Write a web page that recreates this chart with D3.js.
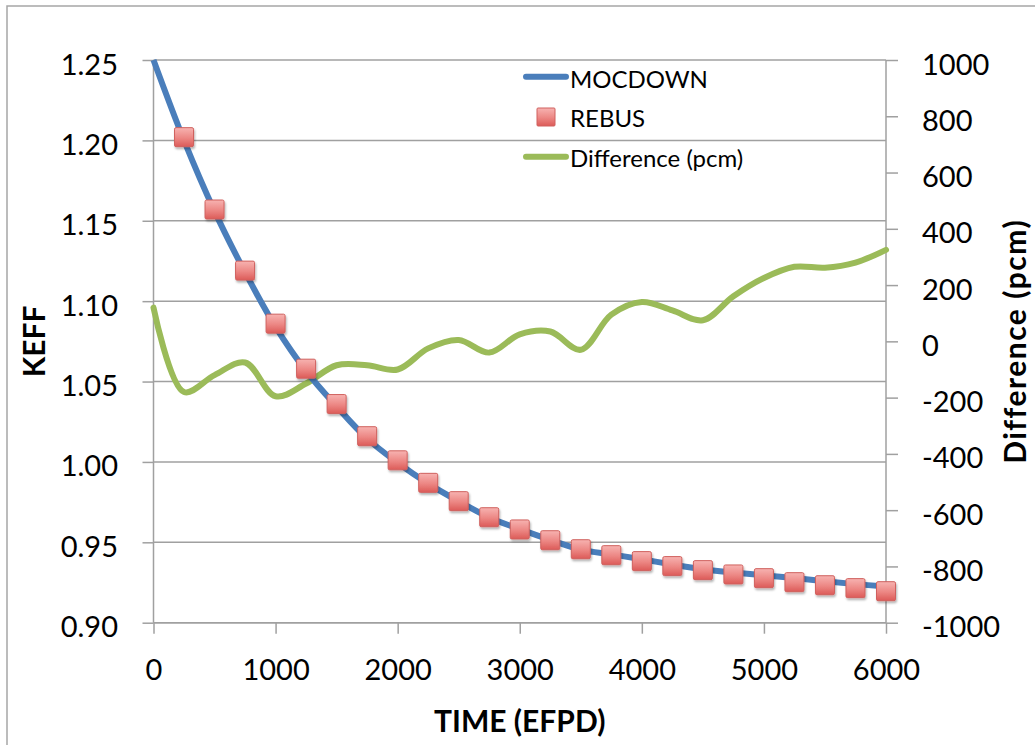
<!DOCTYPE html>
<html>
<head>
<meta charset="utf-8">
<script src="https://cdn.jsdelivr.net/npm/d3@7"></script>
<style>
  html, body { margin: 0; padding: 0; background: #fff; }
  svg { display: block; }
  text { font-family: Lato, "Open Sans", sans-serif; fill: #000; }
</style>
</head>
<body>
<svg id="chart" width="1035" height="745"></svg>
<script>
// ---- data ----
const times = [0,250,500,750,1000,1250,1500,1750,2000,2250,2500,2750,3000,3250,3500,3750,4000,4250,4500,4750,5000,5250,5500,5750,6000];
const mocdown = [1.250,1.200,1.156,1.118,1.084,1.0565,1.0345,1.0145,0.9995,0.9865,0.9755,0.9655,0.9582,0.9515,0.9455,0.9425,0.9395,0.9362,0.9332,0.9312,0.9295,0.9278,0.9258,0.9240,0.9225];
const rebusTimes = [250,500,750,1000,1250,1500,1750,2000,2250,2500,2750,3000,3250,3500,3750,4000,4250,4500,4750,5000,5250,5500,5750,6000];
const rebus = [1.202,1.157,1.119,1.086,1.058,1.036,1.016,1.001,0.987,0.9756,0.9656,0.958,0.9513,0.9457,0.942,0.9383,0.9352,0.9327,0.930,0.9277,0.9252,0.9233,0.9215,0.9196];
const difference = [120,-180,-120,-75,-195,-150,-85,-85,-100,-25,5,-40,25,35,-30,95,140,110,75,160,225,265,262,280,325];
const xTicks = [0,1000,2000,3000,4000,5000,6000];
const leftTicks = [0.90,0.95,1.00,1.05,1.10,1.15,1.20,1.25];
const rightTicks = [-1000,-800,-600,-400,-200,0,200,400,600,800,1000];
const legendItems = ["MOCDOWN","REBUS","Difference (pcm)"];

// ---- layout ----
const svg = d3.select("#chart");
const L = 153.5, R = 886, T = 60, B = 622.7;
const x = d3.scaleLinear().domain([0,6000]).range([L,R]);
const yL = d3.scaleLinear().domain([0.90,1.25]).range([B,T]);
const yR = d3.scaleLinear().domain([-1000,1000]).range([B,T]);
const gridCol = "#a0a0a0";
const blue = "#4a7ebb", green = "#9bbb59";

// outer chart border
svg.append("rect").attr("x",7).attr("y",6).attr("width",1100).attr("height",800)
  .attr("fill","#fff").attr("stroke","#a6a6a6").attr("stroke-width",1.5);

// defs
const defs = svg.append("defs");
const grad = defs.append("linearGradient").attr("id","mk").attr("x1",0).attr("y1",0).attr("x2",0).attr("y2",1);
grad.append("stop").attr("offset","0%").attr("stop-color","#f7b3b1");
grad.append("stop").attr("offset","55%").attr("stop-color","#ec8683");
grad.append("stop").attr("offset","100%").attr("stop-color","#dc5b58");
const sh = defs.append("filter").attr("id","sh").attr("x","-30%").attr("y","-30%").attr("width","170%").attr("height","170%");
sh.append("feDropShadow").attr("dx",1).attr("dy",2).attr("stdDeviation",1.2).attr("flood-color","#000").attr("flood-opacity",0.3);

// gridlines
svg.append("g").selectAll("line").data(leftTicks).join("line")
  .attr("x1",L).attr("x2",R).attr("y1",d=>yL(d)).attr("y2",d=>yL(d))
  .attr("stroke",gridCol).attr("stroke-width",1.5);

// axes
const axL = svg.append("g").attr("transform",`translate(${L},0)`)
  .call(d3.axisLeft(yL).tickValues(leftTicks).tickSize(11).tickFormat(d3.format(".2f")));
const axR = svg.append("g").attr("transform",`translate(${R},0)`)
  .call(d3.axisRight(yR).tickValues(rightTicks).tickSize(12).tickFormat(d=>String(d)));
const axB = svg.append("g").attr("transform",`translate(0,${B})`)
  .call(d3.axisBottom(x).tickValues(xTicks).tickSize(11).tickFormat(d=>String(d)));
[axL,axR,axB].forEach(a=>{
  a.select(".domain").attr("stroke",gridCol).attr("stroke-width",1.5);
  a.selectAll(".tick line").attr("stroke",gridCol).attr("stroke-width",1.5);
  a.selectAll("text").style("font-size","29px").attr("fill","#000");
});
axL.select(".domain").attr("d",`M0,${T}V${B}`);
axR.select(".domain").attr("d",`M0,${T}V${B}`);
axB.select(".domain").attr("d",`M${L},0H${R}`);
axL.selectAll(".tick text").attr("x",-35.5).attr("dy",null).attr("y",14);
axR.selectAll(".tick text").attr("x",36).attr("dy",null).attr("y",14);
axB.selectAll(".tick text").attr("dy",null).attr("y",57.5);

// axis titles
svg.append("text").attr("x",(L+R)/2).attr("y",732).attr("text-anchor","middle")
  .style("font-size","30px").style("font-weight","bold").text("TIME (EFPD)");
svg.append("text").attr("transform",`translate(45,${(T+B)/2}) rotate(-90)`).attr("text-anchor","middle")
  .style("font-size","30px").style("font-weight","bold").text("KEFF");
svg.append("text").attr("transform",`translate(1026,${(T+B)/2}) rotate(-90)`).attr("text-anchor","middle")
  .style("font-size","30px").style("font-weight","bold").style("letter-spacing","1.5px").text("Difference (pcm)");

// series
const curve = d3.curveCatmullRom.alpha(0.5);
const diffLine = d3.line().x((d,i)=>x(times[i])).y(d=>yR(d)).curve(curve);
svg.append("path").attr("d",diffLine(difference)).attr("fill","none")
  .attr("stroke",green).attr("stroke-width",6).attr("stroke-linejoin","round").attr("stroke-linecap","round");
const mocLine = d3.line().x((d,i)=>x(times[i])).y(d=>yL(d)).curve(curve);
svg.append("path").attr("d",mocLine(mocdown)).attr("fill","none")
  .attr("stroke",blue).attr("stroke-width",6).attr("stroke-linejoin","round");

const S = 19;
svg.append("g").selectAll("rect").data(rebus).join("rect")
  .attr("x",(d,i)=>x(rebusTimes[i])-S/2).attr("y",d=>yL(d)-S/2)
  .attr("width",S).attr("height",S).attr("rx",1.5)
  .attr("fill","url(#mk)").attr("stroke","#d0615e").attr("stroke-width",1)
  .attr("filter","url(#sh)");

// legend
const lg = svg.append("g");
const rowY = [76.7,117,156.7];
const textY = [88.3,127.3,166.5];
lg.append("line").attr("x1",526).attr("x2",566).attr("y1",rowY[0]).attr("y2",rowY[0])
  .attr("stroke",blue).attr("stroke-width",6).attr("stroke-linecap","round");
lg.append("rect").attr("x",537).attr("y",rowY[1]-9).attr("width",18).attr("height",18).attr("rx",1)
  .attr("fill","url(#mk)").attr("stroke","#d0615e").attr("stroke-width",1);
lg.append("line").attr("x1",526).attr("x2",566).attr("y1",rowY[2]).attr("y2",rowY[2])
  .attr("stroke",green).attr("stroke-width",6).attr("stroke-linecap","round");
lg.selectAll("text").data(legendItems).join("text")
  .attr("x",570).attr("y",(d,i)=>textY[i]).style("font-size","24px").text(d=>d);
</script>
</body>
</html>
